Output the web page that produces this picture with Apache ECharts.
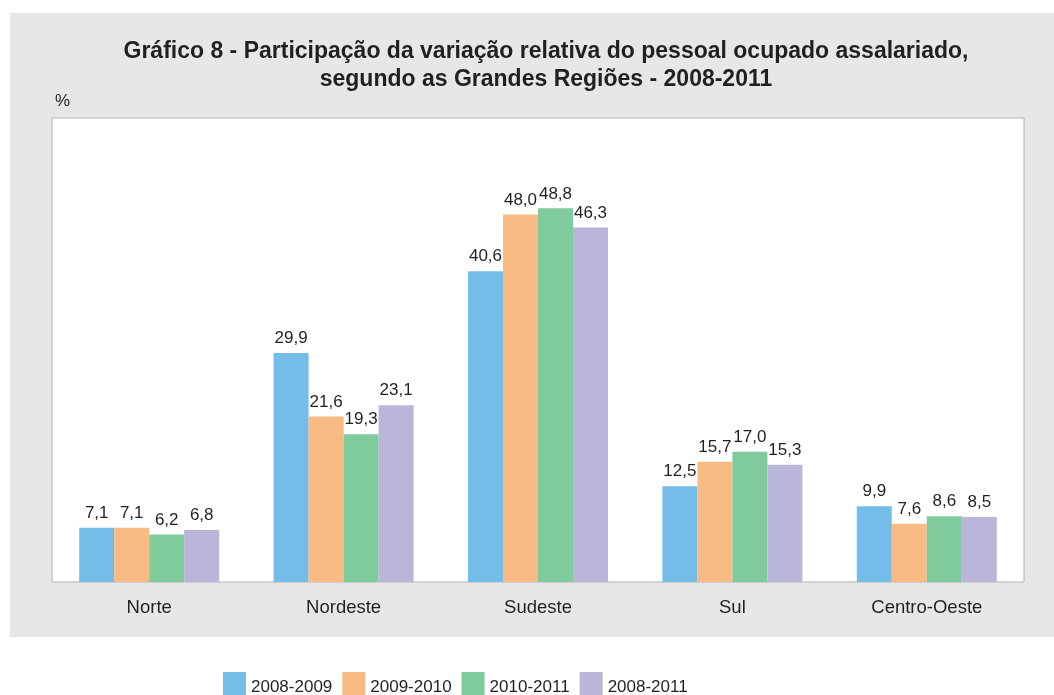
<!DOCTYPE html>
<html>
<head>
<meta charset="utf-8">
<script src="https://cdn.jsdelivr.net/npm/echarts@6/dist/echarts.min.js"></script>
<style>
  html, body { margin: 0; padding: 0; background: #fff; }
  #chart { width: 1054px; height: 695px; }
</style>
</head>
<body>
<div id="chart"></div>
<script>
// regiões e séries
var regioes = ['Norte', 'Nordeste', 'Sudeste', 'Sul', 'Centro-Oeste'];
var periodos = ['2008-2009', '2009-2010', '2010-2011', '2008-2011'];
var v0809 = [7.1, 29.9, 40.6, 12.5, 9.9];
var v0910 = [7.1, 21.6, 48.0, 15.7, 7.6];
var v1011 = [6.2, 19.3, 48.8, 17.0, 8.6];
var v0811 = [6.8, 23.1, 46.3, 15.3, 8.5];
var cores = ['#74bde8', '#f9bb84', '#80cb9b', '#b9b6da'];

var chart = echarts.init(document.getElementById('chart'));
var fonte = '"Liberation Sans", Arial, sans-serif';

function serie(nome, dados, cor) {
    return {
        name: nome,
        type: 'bar',
        data: dados,
        barWidth: 35,
        barGap: '0%',
        itemStyle: { color: cor },
        label: {
            show: true,
            position: 'top',
            distance: 6,
            color: '#231f20',
            fontSize: 17,
            fontFamily: fonte,
            formatter: function (p) { return p.value.toFixed(1).replace('.', ','); }
        }
    };
}

chart.setOption({
    animation: false,
    textStyle: { fontFamily: fonte },
    graphic: [{
        type: 'rect',
        z: -10,
        shape: { x: 10, y: 13, width: 1044, height: 624 },
        style: { fill: '#e6e7e9' }
    }, {
        type: 'text',
        left: 55,
        top: 93,
        style: { text: '%', fontSize: 17, fill: '#231f20', fontFamily: fonte }
    }],
    title: {
        text: 'Gráfico 8 - Participação da variação relativa do pessoal ocupado assalariado,\nsegundo as Grandes Regiões - 2008-2011',
        left: 541,
        textAlign: 'center',
        top: 33,
        textStyle: { fontSize: 23, fontWeight: 'bold', color: '#231f20', lineHeight: 28, fontFamily: fonte }
    },
    legend: {
        left: 218,
        top: 667,
        itemWidth: 23,
        itemHeight: 30,
        itemGap: 10,
        icon: 'rect',
        textStyle: { fontSize: 17, color: '#231f20', fontFamily: fonte },
        data: periodos
    },
    grid: {
        left: 52, right: 30, top: 118, bottom: 113,
        show: true,
        backgroundColor: '#fff',
        borderColor: '#b3b3b3',
        borderWidth: 1
    },
    xAxis: {
        type: 'category',
        data: regioes,
        axisLine: { show: false },
        axisTick: { show: false },
        axisLabel: { fontSize: 18.5, color: '#231f20', margin: 16, fontFamily: fonte }
    },
    yAxis: {
        type: 'value',
        min: 0,
        max: 60.6,
        show: false,
        splitLine: { show: false }
    },
    series: [
        serie(periodos[0], v0809, cores[0]),
        serie(periodos[1], v0910, cores[1]),
        serie(periodos[2], v1011, cores[2]),
        serie(periodos[3], v0811, cores[3])
    ]
});
</script>
</body>
</html>
